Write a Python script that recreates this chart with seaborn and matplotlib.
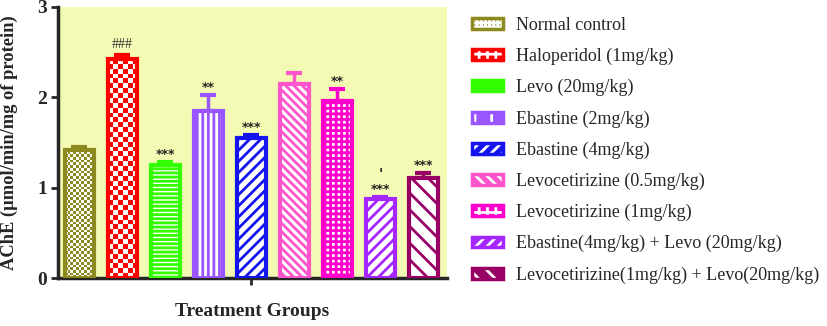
#!/usr/bin/env python3
"""AChE levels across treatment groups - bar chart"""
import numpy as np
import pandas as pd
import matplotlib
matplotlib.use('Agg')
import matplotlib.pyplot as plt
import seaborn as sns
from matplotlib.patches import Patch

# data
groups = ['Normal control', 'Haloperidol (1mg/kg)', 'Levo (20mg/kg)',
          'Ebastine (2mg/kg)', 'Ebastine (4mg/kg)', 'Levocetirizine (0.5mg/kg)',
          'Levocetirizine (1mg/kg)', 'Ebastine(4mg/kg) + Levo (20mg/kg)',
          'Levocetirizine(1mg/kg) + Levo(20mg/kg)']
ache = [1.42, 2.42, 1.25, 1.85, 1.55, 2.15, 1.96, 0.87, 1.11]
sem = [0.03, 0.05, 0.03, 0.18, 0.03, 0.12, 0.13, 0.03, 0.05]
stars = ['', '', '***', '**', '***', '', '**', '***', '***']
hashes = ['', '###', '', '', '', '', '', '', '']
ticks_mark = ['', '', '', '', '', '', '', "'", '']

colors = ['#8C8A1E', '#FF0000', '#33FF00', '#9955FF', '#1414EE',
          '#FF55CC', '#FF00CC', '#A526FF', '#990066']
hatches = [None, None, '----', '|||', '///', '\\\\\\\\', '+++', '///', '\\\\']
legend_hatches = ['++++', '++', '-', '|', '///', '\\\\\\', '++', '///', '\\\\']
checker_cells = [11, 6, 0, 0, 0, 0, 0, 0, 0]

sns.set_style('ticks')
plt.rcParams['font.family'] = ['Liberation Serif', 'DejaVu Serif']
plt.rcParams['hatch.linewidth'] = 2.0

fig = plt.figure(figsize=(8.27, 3.26), dpi=100)
ax = fig.add_axes([0.070, 0.147, 0.4705, 0.832])
ax.set_facecolor('#F3FAB4')

df = pd.DataFrame({'group': groups, 'ache': ache})
sns.barplot(data=df, x='group', y='ache', hue='group', palette=colors,
            legend=False, width=0.68, saturation=1, errorbar=None, ax=ax)

ax.set_xlim(-0.5, 8.55)
ax.set_ylim(0, 3)

# px per data unit, for checker cells
p0 = ax.transData.transform((0, 0))
p1 = ax.transData.transform((1, 1))
px_x, px_y = p1 - p0

for i, bar in enumerate(ax.patches):
    bar.set_edgecolor(colors[i])
    bar.set_linewidth(3)
    bar.set_zorder(3)
    if checker_cells[i]:
        bar.set_facecolor('none')
        n = checker_cells[i]
        cell_px = bar.get_width() * px_x / n
        ny = max(1, int(round(bar.get_height() * px_y / cell_px)))
        grid = (np.add.outer(np.arange(ny), np.arange(n)) % 2).astype(float)
        rgba = np.ones((ny, n, 4))
        rgba[grid == 1] = matplotlib.colors.to_rgba(colors[i])
        x0 = bar.get_x()
        im = ax.imshow(rgba, extent=(x0, x0 + bar.get_width(), 0, bar.get_height()),
                       origin='lower', interpolation='nearest', aspect='auto', zorder=2.5)
        im.set_clip_path(bar)
    else:
        bar.set_facecolor('white')
        bar.set_hatch(hatches[i])

for i in range(len(groups)):
    ax.errorbar(i, ache[i], yerr=[[0], [sem[i]]], fmt='none', ecolor=colors[i],
                elinewidth=2.5, capsize=6, capthick=3, zorder=2)
    top = ache[i] + sem[i]
    if stars[i]:
        ax.text(i, top + 0.01, stars[i], ha='center', va='bottom', fontsize=9,
                fontweight='bold', family='DejaVu Sans', color='#222222')
    if hashes[i]:
        ax.text(i, top + 0.04, hashes[i], ha='center', va='bottom', fontsize=10,
                color='#333333')
    if ticks_mark[i]:
        ax.text(i, top + 0.17, ticks_mark[i], ha='center', va='bottom', fontsize=10,
                fontweight='bold', family='DejaVu Sans', color='#222222')

ax.set_xticks([4])
ax.set_xticklabels([''])
ax.set_yticks([0, 1, 2, 3])
ax.tick_params(axis='both', width=2, length=5, pad=3, labelsize=14)
for lab in ax.get_yticklabels():
    lab.set_fontweight('bold')
sns.despine(ax=ax)
ax.spines['left'].set_linewidth(2.5)
ax.spines['bottom'].set_linewidth(2.5)

ax.set_ylabel('AChE (µmol/min/mg of protein)', fontsize=13.3, fontweight='bold')
ax.yaxis.set_label_coords(-0.103, 0.5)
ax.set_xlabel('Treatment Groups', fontsize=14, fontweight='bold')
ax.xaxis.set_label_coords(0.5, -0.092)

handles = [(Patch(facecolor=c, edgecolor='white', hatch=h, linewidth=0),
            Patch(facecolor='none', edgecolor=c, linewidth=2.5))
           for c, h in zip(colors, legend_hatches)]
fig.legend(handles, groups, loc='upper left', bbox_to_anchor=(0.571, 0.948),
           frameon=False, fontsize=13, handlelength=1.72, handleheight=0.55,
           handletextpad=0.72, labelspacing=0.77, borderpad=0, borderaxespad=0)

fig.savefig('out.png', dpi=100)
